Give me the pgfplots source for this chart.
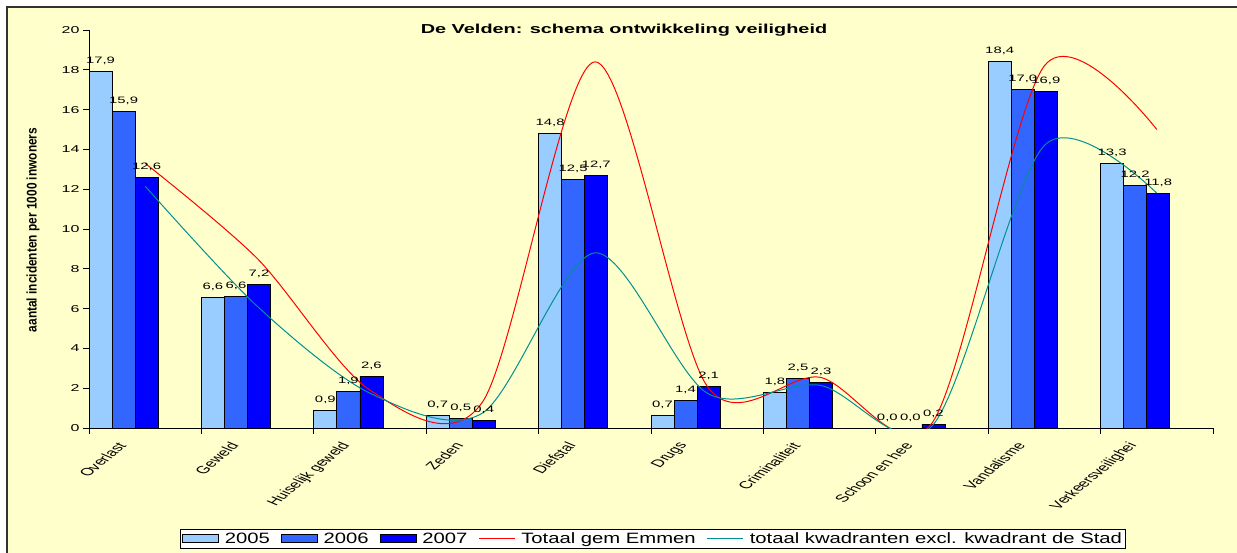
\documentclass[border=0pt]{standalone}
\usepackage{pgfplots}
\pgfplotsset{compat=1.18}
\usepackage{pgfplotstable}
\usepackage{fontspec}
\setmainfont{Liberation Sans}
\newfontfamily\tickfont{Liberation Sans}[FakeStretch=1.6]
\newfontfamily\legfont{Liberation Sans}[FakeStretch=1.35]
\newfontfamily\titlefont{Liberation Sans}[FakeStretch=1.53]
\definecolor{bgy}{HTML}{FFFFCC}
\definecolor{c05}{HTML}{99CCFF}
\definecolor{c06}{HTML}{3366FF}
\definecolor{c07}{HTML}{0000FF}
\definecolor{tealc}{HTML}{009090}

\pgfplotstableread{
x y lab
0 17.9 17,9
1 6.55 6,6
2 0.9 0,9
3 0.65 0,7
4 14.8 14,8
5 0.65 0,7
6 1.8 1,8
7 0.0 0,0
8 18.4 18,4
9 13.3 13,3
}\tabA
\pgfplotstableread{
x y lab
0 15.9 15,9
1 6.62 6,6
2 1.85 1,9
3 0.5 0,5
4 12.5 12,5
5 1.4 1,4
6 2.5 2,5
7 0.0 0,0
8 17.0 17,0
9 12.2 12,2
}\tabB
\pgfplotstableread{
x y lab
0 12.6 12,6
1 7.2 7,2
2 2.6 2,6
3 0.4 0,4
4 12.7 12,7
5 2.1 2,1
6 2.3 2,3
7 0.2 0,2
8 16.9 16,9
9 11.8 11,8
}\tabC
\pgfplotstableread{
x r t
0 13.3 12.15
1 8.5 6.1
2 1.9 1.75
3 1.3 0.75
4 18.4 8.8
5 2.1 1.75
6 2.55 2.15
7 0.25 0.1
8 18.2 14.2
9 15.0 11.8
}\tabL

\begin{document}
\begin{tikzpicture}[x=1pt,y=1pt]
\fill[white] (0,0) rectangle (1237,552);
\fill[bgy] (7,-20) rectangle (1260,545);
\draw[black!80, line width=1.2pt] (7,-20) -- (7,545) -- (1260,545);
\node[font=\titlefont\bfseries\fontsize{13}{15}\selectfont, anchor=base] at (624,518) {De Velden: schema ontwikkeling veiligheid};
\node[rotate=90, font=\bfseries\fontsize{10}{12}\selectfont] at (33,322) {\scalebox{1.19}[1.4]{aantal incidenten per 1000 inwoners}};
\begin{axis}[
  at={(89pt,124pt)}, anchor=south west, scale only axis,
  width=1124pt, height=398pt,
  xmin=0, xmax=10, ymin=0, ymax=20,
  axis lines=left, axis line style={-, black, line width=0.8pt},
  ytick={0,2,...,20}, tick align=outside,
  major tick length=6pt, minor tick length=6pt,
  ytick style={black, line width=0.8pt},
  xtick={0.5,1.5,...,9.5},
  xticklabels={Overlast,Geweld,Huiselijk geweld,Zeden,Diefstal,Drugs,Criminaliteit,Schoon en hee,Vandalisme,Verkeersveilighei},
  minor xtick={0,1,...,10},
  major x tick style={draw=none},
  minor x tick style={black, line width=0.8pt},
  /pgf/number format/assume math mode=true,
  yticklabel style={font=\tickfont\fontsize{10}{12}\selectfont},
  xticklabel style={font=\fontsize{10.5}{12}\selectfont, anchor=east, xshift=-20pt, yshift=-7pt, cm={0.987,0.814,-1.384,0.581,(0,0)}},
  nodes near coords,
  every node near coord/.append style={font=\tickfont\fontsize{9.3}{10}\selectfont, black, anchor=base, inner sep=0pt, yshift=8pt},
  legend style={at={(0.5018,-0.2538)}, anchor=north, draw=black, fill=white, font=\legfont\fontsize{15}{16}\selectfont, inner sep=1.5pt, /tikz/every even column/.append style={column sep=9pt}, /tikz/every odd column/.append style={column sep=4pt}},
  legend columns=-1,
  legend cell align=left,
]
\addplot[ybar, bar width=0.205, bar shift=0pt, fill=c05, draw=black, line width=0.7pt, point meta=explicit symbolic,
  legend image code/.code={\draw[fill=c05, draw=black, line width=0.7pt] (0pt,-3.5pt) rectangle (36pt,4.5pt);}]
  table[x expr=\thisrow{x}+0.1025, y=y, meta=lab]{\tabA};
\addlegendentry{2005}
\addplot[ybar, bar width=0.205, bar shift=0pt, fill=c06, draw=black, line width=0.7pt, point meta=explicit symbolic,
  legend image code/.code={\draw[fill=c06, draw=black, line width=0.7pt] (0pt,-3.5pt) rectangle (36pt,4.5pt);}]
  table[x expr=\thisrow{x}+0.3075, y=y, meta=lab]{\tabB};
\addlegendentry{2006}
\addplot[ybar, bar width=0.205, bar shift=0pt, fill=c07, draw=black, line width=0.7pt, point meta=explicit symbolic,
  legend image code/.code={\draw[fill=c07, draw=black, line width=0.7pt] (0pt,-3.5pt) rectangle (36pt,4.5pt);}]
  table[x expr=\thisrow{x}+0.5125, y=y, meta=lab]{\tabC};
\addlegendentry{2007}
\addplot[red, line width=1pt, smooth, tension=0.5, no marks, nodes near coords={},
  legend image code/.code={\draw[red, line width=1pt] (0pt,0.5pt) -- (36pt,0.5pt);}]
  table[x expr=\thisrow{x}+0.5, y=r]{\tabL};
\addlegendentry{Totaal gem Emmen}
\addplot[tealc, line width=1pt, smooth, tension=0.5, no marks, nodes near coords={},
  legend image code/.code={\draw[tealc, line width=1pt] (0pt,0.5pt) -- (36pt,0.5pt);}]
  table[x expr=\thisrow{x}+0.5, y=t]{\tabL};
\addlegendentry{totaal kwadranten excl. kwadrant de Stad}
\end{axis}
\pgfresetboundingbox
\useasboundingbox (0,0) rectangle (1237,552);
\end{tikzpicture}
\end{document}
